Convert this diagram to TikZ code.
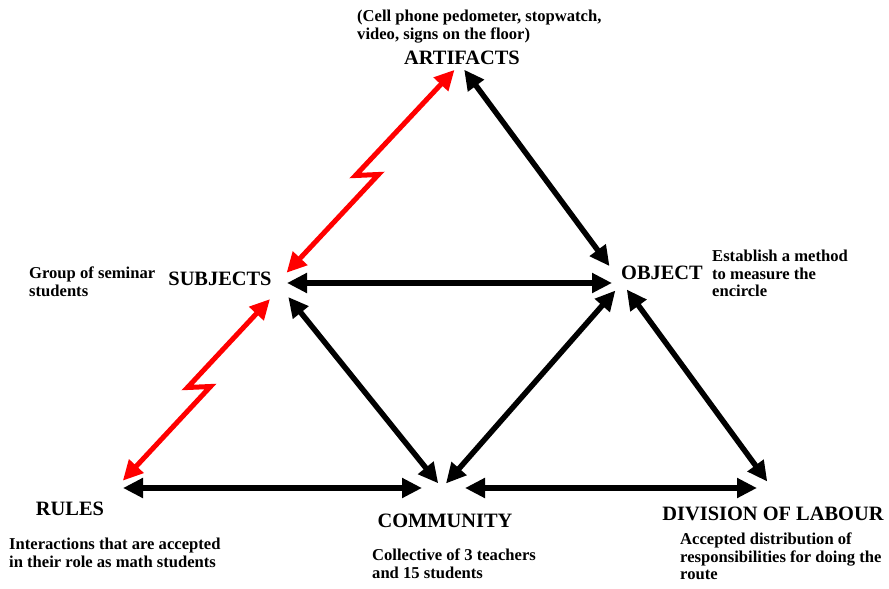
\documentclass[tikz,border=0pt]{standalone}
\usepackage{fontspec}
\setmainfont{Liberation Serif}
\usepackage{tikz}
\usetikzlibrary{arrows.meta,calc}

\tikzset{
  head/.style={font=\fontsize{20.4}{22}\selectfont\bfseries,inner sep=0pt,anchor=base},
  desc/.style={font=\fontsize{16.6}{17.5}\selectfont\bfseries,align=left,inner sep=0pt,anchor=north west},
  arr/.style={line width=5.5pt,{Triangle[length=20pt,width=19pt]}-{Triangle[length=20pt,width=19pt]}},
  redarr/.style={arr,red,line width=5pt},
  zig/.style={to path={-- ($(\tikztostart)!0.5!(\tikztotarget)+(-13,2)$) -- ++(23,-1) -- (\tikztotarget)}}
}

\begin{document}
\begin{tikzpicture}[x=1pt,y=-1pt]
        \useasboundingbox (0,0) rectangle (889,589);
        % corners of the triangles
        \coordinate (vA) at (460,64);
        \coordinate (vS) at (277,283);
        \coordinate (vSr) at (285,283);
        \coordinate (vO) at (622,283);
        \coordinate (vR) at (116,488);
        \coordinate (vC) at (442,488);
        \coordinate (vD) at (772,488);
        % headings
        \node[head] (art) at (462,64) {ARTIFACTS};
        \node[head] (subj) at (220,285) {SUBJECTS};
        \node[head] (obj) at (662,279) {OBJECT};
        \node[head] (rules) at (70,515) {RULES};
        \node[head] (comm) at (445,527) {COMMUNITY};
        \node[head] (div) at (773,520) {DIVISION OF LABOUR};
        % descriptions
        \node[desc] (artd) at (357,10) {(Cell phone pedometer, stopwatch,\\video, signs on the floor)};
        \node[desc] (subjd) at (29,267) {Group of seminar\\students};
        \node[desc] (objd) at (712,250) {Establish a method\\to measure the\\encircle};
        \node[desc] (rulesd) at (9,538) {Interactions that are accepted\\in their role as math students};
        \node[desc] (commd) at (372,549) {Collective of 3 teachers\\and 15 students};
        \node[desc] (divd) at (680,533) {Accepted distribution of\\responsibilities for doing the\\route};
        % upper triangle
        \draw[redarr,shorten <=8pt,shorten >=14pt] (vA) to[zig] (vS);
        \draw[arr,shorten <=7pt,shorten >=21pt] (vA) -- (vO);
        \draw[arr,shorten <=10pt,shorten >=10pt] (vS) -- (vO);
        % lower triangles
        \draw[redarr,shorten <=22pt,shorten >=10pt] (vSr) to[zig] (vR);
        \draw[arr,shorten <=18pt,shorten >=6pt] (vS) -- (vC);
        \draw[arr,shorten <=10pt,shorten >=6pt] (vO) -- (vC);
        \draw[arr,shorten <=8pt,shorten >=8pt] (vO) -- (vD);
        \draw[arr,shorten <=7pt,shorten >=20pt] (vR) -- (vC);
        \draw[arr,shorten <=23pt,shorten >=15pt] (vC) -- (vD);
    \end{tikzpicture}
\end{document}
